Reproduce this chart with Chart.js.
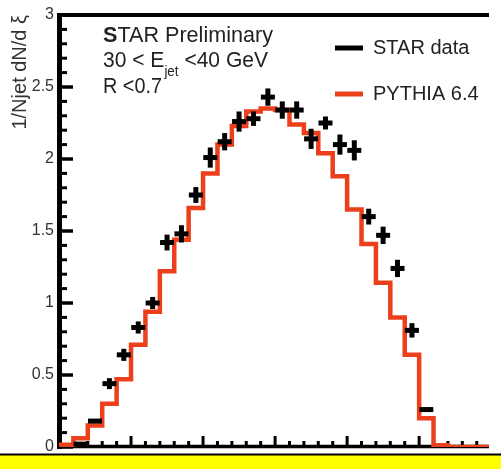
<!DOCTYPE html>
<html><head><meta charset="utf-8">
<script src="https://cdn.jsdelivr.net/npm/chart.js@4.4.1/dist/chart.umd.min.js"></script>
<style>html,body{margin:0;padding:0;background:#fff;}</style>
</head><body>
<canvas id="c" width="501" height="469"></canvas>
<script>
// ---- data ----
const binLow = [0.0,0.2,0.4,0.6,0.8,1.0,1.2,1.4,1.6,1.8,2.0,2.2,2.4,2.6,2.8,3.0,3.2,3.4,3.6,3.8,4.0,4.2,4.4,4.6,4.8,5.0,5.2,5.4,5.6,5.8,6.0];
const pythia = [0.015,0.06,0.15,0.30,0.47,0.71,0.94,1.22,1.44,1.66,1.90,2.10,2.23,2.33,2.35,2.34,2.24,2.18,2.04,1.88,1.65,1.41,1.14,0.90,0.64,0.20,0.012,0,0,0,0];
const starXi  = [0.3,0.5,0.7,0.9,1.1,1.3,1.5,1.7,1.9,2.1,2.3,2.5,2.7,2.9,3.1,3.3,3.5,3.7,3.9,4.1,4.3,4.5,4.7,4.9,5.1];
const starVal = [0.02,0.18,0.44,0.64,0.83,1.00,1.42,1.48,1.75,2.01,2.12,2.26,2.28,2.43,2.34,2.34,2.14,2.25,2.10,2.06,1.60,1.47,1.24,0.81,0.26];
const starErr = [0.005,0.008,0.038,0.042,0.042,0.042,0.055,0.06,0.055,0.07,0.06,0.07,0.05,0.06,0.06,0.06,0.07,0.045,0.07,0.07,0.055,0.06,0.06,0.05,0.008];
const yTicks = [0,0.5,1,1.5,2,2.5,3];
const xMin = 0, xMax = 5.97, yMin = 0, yMax = 3;

const SANS = "'Liberation Sans',Arial,sans-serif";
const RED = '#EC3F1C';

const starPts = starXi.map((x,i)=>({x:x, y:starVal[i]}));
const pyPts = binLow.map((x,i)=>({x:x, y:pythia[i]}));

function drawScaled(ctx, parts, x, y, width){
  let total = 0;
  parts.forEach(p=>{ ctx.font=p.font; p.w=ctx.measureText(p.t).width; total+=p.w; });
  const k = width/total;
  ctx.save(); ctx.translate(x,y); ctx.scale(k,1);
  let cx=0;
  parts.forEach(p=>{ ctx.font=p.font; ctx.fillText(p.t,cx,p.dy||0); cx+=p.w; });
  ctx.restore();
}

const decor = {
  id:'decor',
  beforeDatasetsDraw(chart){
    const {ctx, chartArea:a, scales:{x,y}} = chart;
    ctx.save();
    ctx.strokeStyle='#000'; ctx.lineCap='butt';
    for(let i=0;i<=30;i++){
      const v=i/10, py=y.getPixelForValue(v), major=i%5===0;
      ctx.lineWidth = major?3.5:3;
      ctx.beginPath(); ctx.moveTo(a.left,py); ctx.lineTo(a.left+(major?14:8),py); ctx.stroke();
    }
    for(let i=0;i*0.2<=xMax;i++){
      const v=i*0.2, px=x.getPixelForValue(v), major=i%5===0;
      ctx.lineWidth = 3;
      ctx.beginPath(); ctx.moveTo(px,a.bottom); ctx.lineTo(px,a.bottom-(major?11:6)); ctx.stroke();
    }
    ctx.lineWidth=5; ctx.beginPath(); ctx.moveTo(a.left+0.5,a.top-2); ctx.lineTo(a.left+0.5,a.bottom+2); ctx.stroke();
    ctx.lineWidth=4; ctx.beginPath(); ctx.moveTo(a.left-2,a.top); ctx.lineTo(a.right,a.top); ctx.stroke();
    ctx.lineWidth=3.5; ctx.beginPath(); ctx.moveTo(a.left-2,a.bottom-0.5); ctx.lineTo(a.right,a.bottom-0.5); ctx.stroke();
    ctx.restore();
  },
  afterDraw(chart){
    const {ctx} = chart;
    ctx.save();
    ctx.fillStyle='#FFFF00'; ctx.fillRect(0,455,chart.width,chart.height-455);
    ctx.fillStyle='#000'; ctx.fillRect(0,453.5,chart.width,2);
    ctx.fillStyle='#222'; ctx.textBaseline='alphabetic'; ctx.textAlign='left';
    const F='22px '+SANS;
    drawScaled(ctx,[{t:'S',font:'bold '+F},{t:'TAR Preliminary',font:F}],103,42,170);
    drawScaled(ctx,[{t:'30 < E',font:F},{t:'jet',font:'14px '+SANS,dy:9},{t:' <40 GeV',font:F}],103,67,165);
    drawScaled(ctx,[{t:'R <0.7',font:F}],103,93,59);
    ctx.restore();
  }
};

const legendPlacer = {
  id:'legendPlacer',
  afterLayout(chart){
    const lg = chart.legend; if(!lg) return;
    lg.left=309; lg.top=12; lg.right=501; lg.bottom=220; lg.width=192; lg.height=208;
  }
};

new Chart(document.getElementById('c'), {
  type:'line',
  data:{ datasets:[
    { label:'STAR data', data:starPts, showLine:false, order:0,
      borderColor:'#000', backgroundColor:'#000', borderWidth:5,
      pointStyle:'line', pointRadius:7, pointRotation:0, pointHoverRadius:7 },
    { label:'PYTHIA 6.4', data:pyPts, stepped:'before', order:1,
      borderColor:RED, backgroundColor:RED, borderWidth:4.5, pointRadius:0, fill:false },
    { label:'err', data:starPts, showLine:false, order:0,
      borderColor:'#000', backgroundColor:'#000', borderWidth:5,
      pointStyle:'line', pointRotation:90,
      pointRadius:(c)=>{ const s=c.chart.scales.y; if(!s) return 0; const i=c.dataIndex;
        return Math.abs(s.getPixelForValue(starVal[i]) - s.getPixelForValue(starVal[i]+starErr[i])); } }
  ]},
  options:{
    responsive:false, animation:false, events:[],
    layout:{ padding:{ top:15, bottom:22, left:0, right:0 } },
    scales:{
      x:{ type:'linear', min:xMin, max:xMax,
        ticks:{ display:false }, grid:{ display:false, drawTicks:false }, border:{ display:false },
        afterFit:(s)=>{ s.height=0; } },
      y:{ type:'linear', min:yMin, max:yMax, position:'left',
        afterBuildTicks:(s)=>{ s.ticks = yTicks.map(v=>({value:v})); },
        ticks:{ padding:5, color:'#333', font:{ family:SANS, size:16 }, callback:(v)=>String(v) },
        grid:{ display:false, drawTicks:false }, border:{ display:false },
        title:{ display:true, text:'1/Njet dN/d ξ', align:'end', color:'#333',
          font:{ family:SANS, size:20 }, padding:{ top:8, bottom:0 } },
        afterFit:(s)=>{ s.width=59; } }
    },
    plugins:{
      tooltip:{ enabled:false },
      legend:{ position:'chartArea', align:'start',
        labels:{ boxWidth:28, boxHeight:5, padding:26, color:'#222', font:{ family:SANS, size:20 },
          filter:(it)=>it.datasetIndex!==2,
          generateLabels:(chart)=>Chart.defaults.plugins.legend.labels.generateLabels(chart)
             .map(it=>Object.assign({}, it, { lineWidth:0, fillStyle:it.strokeStyle })) } }
    }
  },
  plugins:[decor, legendPlacer]
});
</script>
</body></html>
